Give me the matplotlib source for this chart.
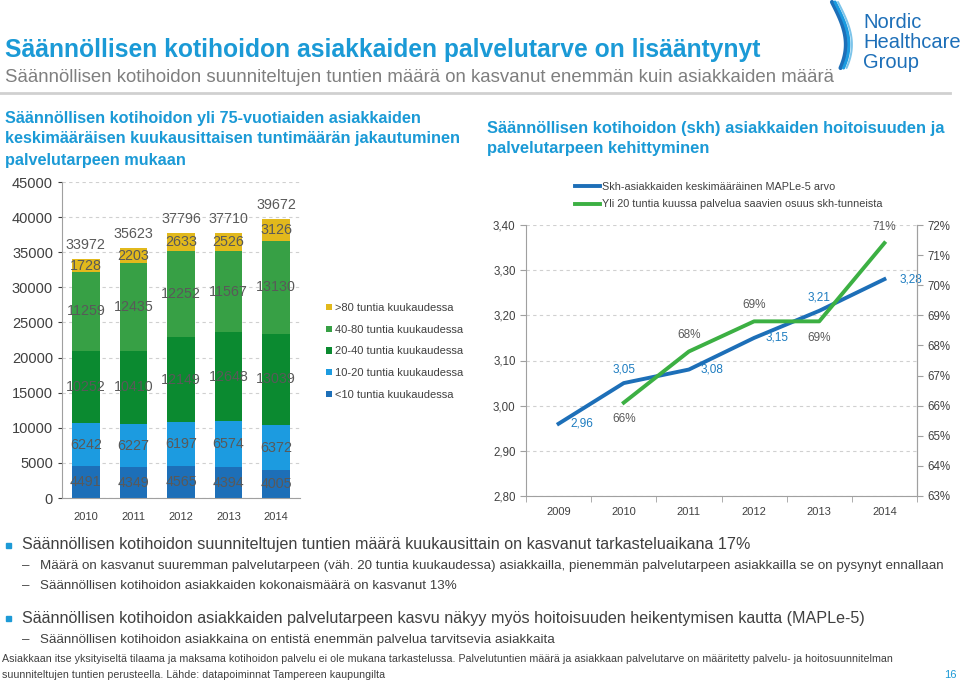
import numpy as np
import matplotlib.pyplot as plt
from matplotlib.lines import Line2D
from matplotlib.patches import Rectangle

plt.rcParams['font.family'] = ['Liberation Sans', 'DejaVu Sans']

# left chart data
years = ['2010', '2011', '2012', '2013', '2014']
alle10 = [4491, 4349, 4565, 4394, 4005]
h10_20 = [6242, 6227, 6197, 6574, 6372]
h20_40 = [10252, 10410, 12149, 12648, 13039]
h40_80 = [11259, 12435, 12252, 11567, 13130]
yli80 = [1728, 2203, 2633, 2526, 3126]
totals = [33972, 35623, 37796, 37710, 39672]
series_names = ['<10 tuntia kuukaudessa', '10-20 tuntia kuukaudessa', '20-40 tuntia kuukaudessa',
                '40-80 tuntia kuukaudessa', '>80 tuntia kuukaudessa']
series_colors = ['#1d6fb8', '#1c9be0', '#0b8a30', '#37a045', '#e2b91c']

# right chart data
years2 = ['2009', '2010', '2011', '2012', '2013', '2014']
maple = [2.96, 3.05, 3.08, 3.15, 3.21, 3.28]
osuus_years = ['2010', '2011', '2012', '2013', '2014']
osuus = [66.1, 67.8, 68.8, 68.8, 71.4]

BLUE = '#1b9ad6'
GRAY = '#595959'
W, H = 960, 680

fig = plt.figure(figsize=(9.6, 6.8), dpi=100)


def px(x, y):
    return x / W, 1 - y / H


def ftext(x, y, s, **kw):
    fx, fy = px(x, y)
    fig.text(fx, fy, s, **kw)


# header
ftext(5, 50, 'Säännöllisen kotihoidon asiakkaiden palvelutarve on lisääntynyt', fontsize=17.7,
      fontweight='bold', color=BLUE, va='center')
ftext(5, 78, 'Säännöllisen kotihoidon suunniteltujen tuntien määrä on kasvanut enemmän kuin asiakkaiden määrä',
      fontsize=13.4, color='#7f7f7f', va='center')
fig.add_artist(Line2D([0, 950 / W], [1 - 93 / H] * 2, color='#d0d0d0', lw=2))

# logo
for i, (a, b) in enumerate([(0, 4), (3, 7), (6, 10)]):
    t = np.linspace(0, 1, 40)
    xs = 832 + a + 18 * np.sin(t * 2.2) - 6 * t
    ys = 2 + 66 * t
    fig.add_artist(Line2D(xs / W, 1 - ys / H, color=['#1d6fb8', '#1c9be0', '#7cc4ea'][i],
                          lw=3 - 0.8 * i, solid_capstyle='round'))
for k, word in enumerate(['Nordic', 'Healthcare', 'Group']):
    ftext(863, 22 + 20.5 * k, word, fontsize=14.5, color='#1d6fb8', va='center')

# chart titles
for k, line in enumerate(['Säännöllisen kotihoidon yli 75-vuotiaiden asiakkaiden',
                          'keskimääräisen kuukausittaisen tuntimäärän jakautuminen',
                          'palvelutarpeen mukaan']):
    ftext(5, 118 + 21 * k, line, fontsize=11.7, fontweight='bold', color=BLUE, va='center')
for k, line in enumerate(['Säännöllisen kotihoidon (skh) asiakkaiden hoitoisuuden ja',
                          'palvelutarpeen kehittyminen']):
    ftext(487, 128 + 21 * k, line, fontsize=11.9, fontweight='bold', color=BLUE, va='center')

# left stacked bars
ax1 = fig.add_axes([62 / W, 1 - 498 / H, 238 / W, 316 / H])
x = np.arange(len(years))
bottom = np.zeros(len(years))
handles = []
for vals, col, name in zip([alle10, h10_20, h20_40, h40_80, yli80], series_colors, series_names):
    bars = ax1.bar(x, vals, 0.58, bottom=bottom, color=col, label=name, zorder=2)
    for xi, b, v in zip(x, bottom, vals):
        ax1.text(xi, b + v / 2, str(v), ha='center', va='center', fontsize=10.3, color=GRAY, zorder=3)
    handles.append(bars)
    bottom += np.array(vals)
for xi, b, t in zip(x, bottom, totals):
    ax1.text(xi, b + 1000, str(t), ha='center', va='bottom', fontsize=10.3, color=GRAY)
ax1.set_xlim(-0.5, 4.5)
ax1.set_ylim(0, 45000)
ax1.set_yticks(np.arange(0, 45001, 5000))
ax1.set_xticks(x, years)
ax1.tick_params(axis='y', labelsize=10.5, colors='#404040', length=3)
ax1.tick_params(axis='x', labelsize=8, colors='#404040', length=0, pad=10)
ax1.grid(axis='y', linestyle=(0, (3, 3)), color='#d0d0d0', lw=0.8, zorder=0)
for s in ['top', 'right']:
    ax1.spines[s].set_visible(False)
for s in ['left', 'bottom']:
    ax1.spines[s].set_color('#a0a0a0')

leg = fig.legend(handles[::-1], series_names[::-1], loc='upper left', bbox_to_anchor=px(316, 293),
                 frameon=False, fontsize=8, handlelength=0.5, handleheight=0.5, handletextpad=0.3,
                 labelspacing=1.05, labelcolor='#404040')

# right line chart
ax2 = fig.add_axes([526 / W, 1 - 496 / H, 391 / W, 271 / H])
x2 = np.arange(len(years2))
ax2.plot(x2, maple, color='#1d6fb8', lw=2.8, zorder=3,
         label='Skh-asiakkaiden keskimääräinen MAPLe-5 arvo')
ax2.set_xlim(-0.5, 5.5)
ax2.set_ylim(2.8, 3.4)
ax2.set_yticks(np.arange(2.8, 3.401, 0.1))
ax2.set_yticklabels([f'{v:.2f}'.replace('.', ',') for v in np.arange(2.8, 3.401, 0.1)])
ax2.set_xticks(x2, years2)
ax2.set_xticks(np.arange(-0.5, 5.6, 1), minor=True)
ax2.tick_params(axis='x', which='major', length=0, labelsize=8, colors='#404040', pad=8)
ax2.tick_params(axis='x', which='minor', length=4, color='#a0a0a0')
ax2.tick_params(axis='y', labelsize=8.3, colors='#404040', length=4, color='#a0a0a0')
ax2.grid(axis='y', linestyle=(0, (3, 3)), color='#d0d0d0', lw=0.8, zorder=0)
ax2.spines['top'].set_visible(False)
for s in ['left', 'bottom', 'right']:
    ax2.spines[s].set_color('#a0a0a0')

offs = [(0.35, 0.0), (0.0, 0.03), (0.35, 0.0), (0.35, 0.0), (0.0, 0.03), (0.4, 0.0)]
for xi, v, (dx, dy) in zip(x2, maple, offs):
    ax2.text(xi + dx, v + dy, f'{v:.2f}'.replace('.', ','), color='#1d7cc0', fontsize=8.5,
             ha='center', va='center', zorder=4)

ax3 = ax2.twinx()
x3 = np.array([years2.index(y) for y in osuus_years])
ax3.plot(x3, osuus, color='#3cb043', lw=2.8, zorder=3,
         label='Yli 20 tuntia kuussa palvelua saavien osuus skh-tunneista')
ax3.set_ylim(63, 72)
ax3.set_yticks(np.arange(63, 72.1, 1))
ax3.set_yticklabels([f'{int(v)}%' for v in np.arange(63, 72.1, 1)])
ax3.tick_params(axis='y', labelsize=8.3, colors='#404040', length=4, color='#a0a0a0')
for s in ['top', 'left', 'bottom']:
    ax3.spines[s].set_visible(False)
ax3.spines['right'].set_color('#a0a0a0')
goffs = [-0.55, 0.55, 0.55, -0.55, 0.55]
for xi, v, dy in zip(x3, osuus, goffs):
    ax3.text(xi, v + dy, f'{round(v):.0f}%', color=GRAY, fontsize=8.5, ha='center', va='center')

h1 = ax2.get_lines()[0]
h2 = ax3.get_lines()[0]
fig.legend([h1, h2], [h1.get_label(), h2.get_label()], loc='upper left', bbox_to_anchor=px(565, 172),
           frameon=False, fontsize=7.8, handlelength=2.3, handletextpad=0.2, labelspacing=0.7,
           labelcolor='#404040')

# bullets
for yb, line in [(545, 'Säännöllisen kotihoidon suunniteltujen tuntien määrä kuukausittain on kasvanut tarkasteluaikana 17%'),
                 (618, 'Säännöllisen kotihoidon asiakkaiden palvelutarpeen kasvu näkyy myös hoitoisuuden heikentymisen kautta (MAPLe-5)')]:
    fig.add_artist(Rectangle(px(6, yb + 3), 5 / W, 5 / H, color='#1d9ad6'))
    ftext(22, yb, line, fontsize=11.65, color='#404040', va='center')
for ys, line in [(566, 'Määrä on kasvanut suuremman palvelutarpeen (väh. 20 tuntia kuukaudessa) asiakkailla, pienemmän palvelutarpeen asiakkailla se on pysynyt ennallaan'),
                 (586, 'Säännöllisen kotihoidon asiakkaiden kokonaismäärä on kasvanut 13%'),
                 (640, 'Säännöllisen kotihoidon asiakkaina on entistä enemmän palvelua tarvitsevia asiakkaita')]:
    ftext(22, ys, '–', fontsize=9.6, color='#404040', va='center')
    ftext(40, ys, line, fontsize=9.6, color='#404040', va='center')
ftext(2, 659, 'Asiakkaan itse yksityiseltä tilaama ja maksama kotihoidon palvelu ei ole mukana tarkastelussa. '
      'Palvelutuntien määrä ja asiakkaan palvelutarve on määritetty palvelu- ja hoitosuunnitelman',
      fontsize=7.7, color='#404040', va='center')
ftext(2, 675, 'suunniteltujen tuntien perusteella. Lähde: datapoiminnat Tampereen kaupungilta',
      fontsize=7.7, color='#404040', va='center')
ftext(957, 675, '16', fontsize=8, color='#1d9ad6', va='center', ha='right')

fig.savefig('out.png', dpi=100)
